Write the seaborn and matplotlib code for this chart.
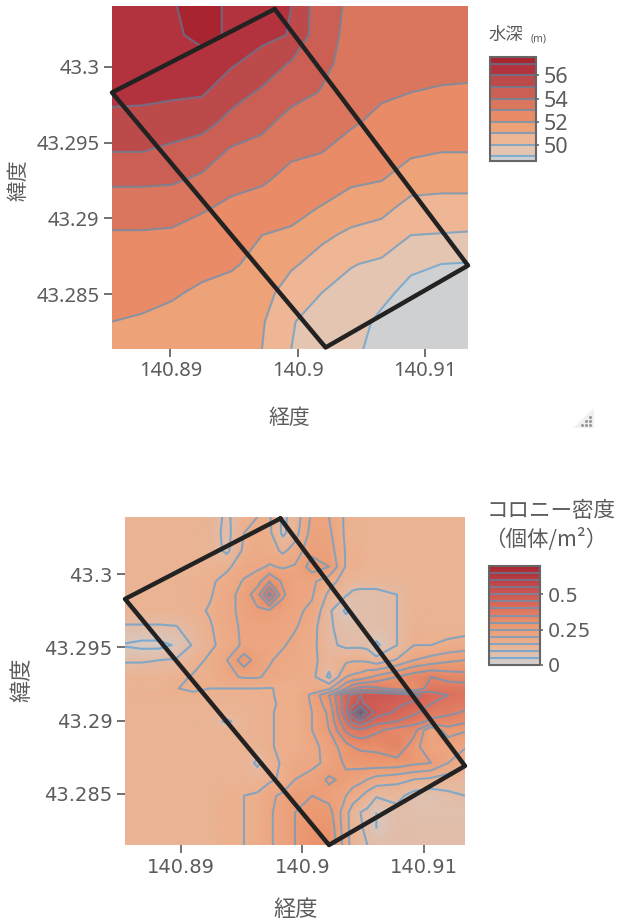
import matplotlib
matplotlib.use('Agg')
import matplotlib.pyplot as plt
import seaborn as sns
import numpy as np

# polygon of the survey area (closed)
area_lon = [140.8982, 140.9134, 140.9022, 140.8854, 140.8982]
area_lat = [43.3038, 43.2869, 43.2815, 43.2983, 43.3038]

x_ticks = [140.89, 140.9, 140.91]
x_labels = ['140.89', '140.9', '140.91']
y_ticks = [43.285, 43.29, 43.295, 43.3]
y_labels = ['43.285', '43.29', '43.295', '43.3']

# depth (m)
depth_lon = [140.8854, 140.8878, 140.8901, 140.8925, 140.8948, 140.8972, 140.8995,
             140.9019, 140.9042, 140.9066, 140.9089, 140.9113, 140.9134]
depth_lat = [43.3040, 43.3021, 43.3002, 43.2983, 43.2964, 43.2945, 43.2926,
             43.2907, 43.2889, 43.2870, 43.2851, 43.2832, 43.2814]
depth = [
    [56.8, 56.85, 56.9, 57.5, 56.75, 56.55, 56.0, 54.35, 53.85, 53.7, 53.6, 53.55, 53.5],
    [56.6, 56.7, 56.8, 57.3, 56.85, 56.25, 55.95, 54.3, 53.8, 53.6, 53.5, 53.45, 53.45],
    [56.4, 56.5, 56.55, 56.6, 56.1, 55.6, 54.9, 54.2, 53.7, 53.45, 53.35, 53.3, 53.3],
    [56.2, 56.2, 56.15, 56.1, 55.4, 54.85, 54.3, 53.95, 53.5, 53.15, 53.0, 52.9, 52.85],
    [55.8, 55.75, 55.6, 55.4, 54.7, 54.25, 53.7, 53.5, 53.15, 52.75, 52.65, 52.5, 52.45],
    [55.05, 55.05, 54.8, 54.5, 53.9, 53.7, 53.2, 53.05, 52.6, 52.4, 52.2, 52.05, 52.05],
    [54.2, 54.2, 54.15, 53.85, 53.3, 53.15, 52.7, 52.5, 52.2, 52.05, 51.5, 51.35, 51.35],
    [53.45, 53.45, 53.4, 53.1, 52.8, 52.55, 52.3, 51.95, 51.5, 51.3, 50.65, 50.65, 50.65],
    [52.9, 52.9, 52.85, 52.6, 52.45, 52.0, 51.85, 51.2, 50.8, 50.55, 50.0, 49.95, 49.9],
    [52.6, 52.55, 52.5, 52.25, 52.1, 51.75, 51.15, 50.6, 50.05, 49.85, 49.2, 49.0, 48.95],
    [52.3, 52.25, 52.1, 51.85, 51.7, 51.4, 50.5, 50.0, 49.7, 49.25, 48.7, 48.6, 48.6],
    [52.0, 51.9, 51.75, 51.5, 51.35, 51.1, 50.05, 49.7, 49.4, 48.8, 48.5, 48.5, 48.5],
    [51.7, 51.6, 51.5, 51.3, 51.15, 51.0, 50.0, 49.2, 49.2, 48.7, 48.5, 48.5, 48.5],
]
depth_levels = [48.4, 49, 50, 51, 52, 53, 54, 55, 56, 57, 57.6]
depth_colors = ['#cfd0d2', '#e4c5b2', '#eeb695', '#eea277', '#e98b67',
                '#d9765d', '#cc5f53', '#bd4a4a', '#b2333d', '#a82530']
depth_ticks = [50, 52, 54, 56]

# colony density (individuals per m2)
dens_lon = [140.8854, 140.8868, 140.8882, 140.8896, 140.8910, 140.8924, 140.8938, 140.8952,
            140.8963, 140.8973, 140.8984, 140.8994, 140.9008, 140.9022, 140.9036, 140.90415,
            140.9048, 140.90536, 140.9061, 140.9078, 140.9092, 140.9106, 140.9120, 140.9134]
dens_lat = [43.3039, 43.3028, 43.3016, 43.3005, 43.2995, 43.2986, 43.2975, 43.2964,
            43.29515, 43.29412, 43.29298, 43.29219, 43.29173, 43.29114, 43.29055, 43.28994,
            43.28935, 43.28821, 43.2871, 43.28598, 43.28487, 43.28373, 43.28262, 43.2815]
density = [
    [.13, .13, .13, .13, .13, .125, .09, .14, .15, .155, .09, .12, .21, .20, .14, .135, .135, .13, .13, .13, .13, .13, .13, .13],
    [.13, .13, .13, .13, .13, .125, .085, .15, .17, .16, .09, .13, .22, .21, .14, .135, .135, .13, .13, .13, .13, .13, .13, .13],
    [.13, .13, .13, .13, .13, .125, .09, .16, .175, .175, .14, .17, .235, .225, .145, .14, .135, .13, .13, .13, .13, .13, .13, .13],
    [.13, .13, .13, .13, .13, .13, .14, .18, .19, .205, .195, .205, .275, .25, .145, .14, .135, .13, .13, .13, .13, .13, .13, .13],
    [.13, .13, .13, .13, .135, .14, .17, .205, .23, .30, .24, .21, .21, .17, .125, .12, .12, .12, .12, .125, .13, .13, .13, .13],
    [.13, .13, .13, .13, .135, .145, .18, .22, .28, .42, .26, .21, .205, .14, .105, .09, .085, .085, .085, .10, .13, .13, .13, .13],
    [.13, .13, .13, .13, .135, .155, .185, .215, .24, .245, .22, .21, .19, .11, .04, .07, .08, .085, .085, .10, .13, .13, .13, .13],
    [.095, .095, .095, .098, .12, .145, .18, .21, .21, .21, .205, .205, .17, .105, .085, .085, .085, .085, .085, .10, .135, .13, .13, .13],
    [.045, .035, .035, .055, .105, .14, .17, .21, .2, .205, .205, .185, .165, .11, .09, .09, .09, .085, .04, .10, .15, .15, .16, .17],
    [.095, .095, .10, .105, .13, .16, .2, .28, .225, .205, .185, .18, .165, .12, .14, .145, .145, .14, .12, .155, .2, .22, .24, .25],
    [.13, .13, .13, .135, .155, .155, .19, .205, .205, .19, .175, .17, .165, .09, .2, .21, .22, .24, .26, .3, .33, .35, .33, .32],
    [.13, .13, .125, .148, .16, .15, .15, .15, .15, .148, .155, .16, .17, .19, .3, .34, .37, .37, .36, .33, .3, .38, .38, .38],
    [.135, .135, .135, .14, .14, .135, .135, .14, .14, .145, .16, .16, .21, .30, .44, .46, .5, .5, .5, .48, .47, .42, .40, .39],
    [.13, .13, .13, .13, .13, .13, .13, .13, .135, .14, .16, .16, .205, .28, .44, .48, .52, .48, .47, .46, .44, .40, .38, .365],
    [.13, .13, .13, .13, .13, .13, .13, .13, .135, .145, .16, .16, .2, .26, .44, .55, .70, .55, .48, .44, .41, .37, .36, .345],
    [.13, .13, .13, .13, .13, .125, .09, .13, .135, .145, .16, .155, .2, .255, .40, .46, .50, .46, .42, .40, .37, .34, .33, .31],
    [.13, .13, .13, .13, .13, .13, .13, .13, .135, .145, .16, .155, .2, .25, .36, .38, .39, .38, .36, .33, .32, .2, .28, .255],
    [.13, .13, .13, .13, .13, .13, .13, .13, .13, .145, .16, .16, .185, .22, .28, .30, .31, .31, .31, .34, .27, .21, .21, .205],
    [.13, .13, .13, .13, .13, .13, .13, .13, .09, .135, .155, .18, .19, .21, .26, .265, .27, .275, .28, .28, .26, .25, .2, .16],
    [.13, .13, .13, .13, .13, .13, .13, .13, .13, .14, .16, .2, .215, .26, .235, .225, .215, .20, .18, .165, .15, .14, .125, .11],
    [.13, .13, .13, .13, .13, .13, .14, .15, .155, .19, .21, .24, .25, .23, .2, .175, .155, .13, .105, .115, .08, .07, .09, .1],
    [.13, .13, .13, .13, .13, .13, .15, .15, .155, .195, .215, .25, .27, .27, .165, .125, .10, .09, .05, .085, .08, .08, .08, .08],
    [.13, .13, .13, .13, .13, .13, .145, .15, .155, .195, .215, .25, .29, .29, .165, .13, .105, .09, .05, .09, .085, .085, .085, .085],
    [.13, .13, .13, .13, .13, .13, .15, .15, .16, .195, .215, .25, .29, .3, .17, .13, .11, .10, .09, .09, .09, .09, .09, .09],
]
dens_levels = [.05, .1, .15, .2, .25, .3, .35, .4, .45, .5, .55, .6, .65]
dens_ticks = [0, .25, .5]
dens_tick_labels = ['0', '0.25', '0.5']

TEXT = '#5c5c5c'
NOTO = ['Noto Sans', 'DejaVu Sans']
W, H = 620, 922


def add_axes(left, top, right, bottom):
    return fig.add_axes([left / W, 1 - bottom / H, (right - left) / W, (bottom - top) / H])


def style_map(ax, xlim, ylim, family, size):
    sns.lineplot(x=area_lon, y=area_lat, sort=False, estimator=None, color='#222222',
                 linewidth=3.2, ax=ax, clip_on=False, zorder=5)
    ax.set_xlim(*xlim)
    ax.set_ylim(*ylim)
    ax.set_xticks(x_ticks, x_labels, family=family)
    ax.set_yticks(y_ticks, y_labels, family=family)
    ax.tick_params(bottom=True, left=True, length=5.5, width=1.3, color='#666666',
                   labelcolor=TEXT, labelsize=size, pad=3.5)
    sns.despine(ax=ax, left=True, bottom=True, offset=2)


def style_colorbar(cb, cax, family, size):
    cb.outline.set_edgecolor('#666666')
    cb.outline.set_linewidth(1.5)
    cax.tick_params(right=True, length=2.5, width=1.2, color='#666666', labelcolor=TEXT,
                    labelsize=size, pad=3)
    for t in cax.get_yticklabels():
        t.set_family(family)


sns.set_theme(style='white')
plt.rcParams['font.family'] = ['Noto Sans CJK JP', 'DejaVu Sans']
fig = plt.figure(figsize=(6.2, 9.22), dpi=100)

# top panel
ax1 = add_axes(112, 6, 468, 349)
cf = ax1.contourf(depth_lon, depth_lat, depth, levels=depth_levels, colors=depth_colors)
line_pal = sns.blend_palette(['#6fa8d2', '#7a9cb8', '#7a8ca2', '#6f7c92', '#6a6f88'], 9)
cs1 = ax1.contour(depth_lon, depth_lat, depth, levels=depth_levels[1:-1], colors=line_pal,
                  linewidths=1.5, alpha=0.85)
style_map(ax1, (140.8854, 140.9134), (43.2814, 43.3040), NOTO, 14.5)
fig.text(289 / W, 1 - 418 / H, '経度', color=TEXT, fontsize=15, ha='center', va='center')
fig.text(19 / W, 1 - 180 / H, '緯度', color=TEXT, fontsize=15, rotation=90, ha='center', va='center')

cax1 = add_axes(490, 57, 536, 161)
cb1 = fig.colorbar(cf, cax=cax1, spacing='proportional', ticks=depth_ticks)
cb1.add_lines(cs1)
cax1.set_ylim(48.6, 57.6)
style_colorbar(cb1, cax1, NOTO, 15.5)
fig.text(489 / W, 1 - 35 / H, '水深', color=TEXT, fontsize=12.5, va='center')
fig.text(531 / W, 1 - 39 / H, '(m)', color=TEXT, fontsize=7.5, va='center', ha='left',
         fontweight='bold', family=NOTO)

# resize handle left over in the screenshot
fig.add_artist(plt.Polygon([(573 / W, 1 - 428 / H), (594 / W, 1 - 428 / H), (594 / W, 1 - 408 / H)],
                           transform=fig.transFigure, color='#f0f0f0', lw=0))
for dx, dy in [(590, 425), (586, 425), (582, 425), (590, 421), (586, 421), (590, 417)]:
    fig.add_artist(plt.Line2D([dx / W], [1 - dy / H], marker='o', ms=1.2, color='#999999',
                              transform=fig.transFigure))

# bottom panel
ax2 = add_axes(125, 517, 465, 845)
cmap = sns.blend_palette(['#d0d2d4', '#ecb18f', '#eb9870', '#d96b5a', '#c24a4c', '#a82530'],
                         as_cmap=True)
mesh = ax2.pcolormesh(dens_lon, dens_lat, density, cmap=cmap, vmin=0, vmax=.7, shading='gouraud')
dens_pal = sns.blend_palette(['#6aa6d4', '#7ba0c0', '#7a94ae', '#75869e', '#6e7088'], len(dens_levels))
cs2 = ax2.contour(dens_lon, dens_lat, density, levels=dens_levels, colors=dens_pal,
                  linewidths=1.5, alpha=0.85)
style_map(ax2, (140.8854, 140.9134), (43.2815, 43.3039), 'DejaVu Sans', 14)
fig.text(296 / W, 1 - 909 / H, '経度', color=TEXT, fontsize=16, ha='center', va='center')
fig.text(22 / W, 1 - 680 / H, '緯度', color=TEXT, fontsize=16, rotation=90, ha='center', va='center')

cax2 = add_axes(489, 566, 540, 665)
cb2 = fig.colorbar(mesh, cax=cax2, ticks=dens_ticks)
cb2.add_lines(cs2)
cb2.set_ticklabels(dens_tick_labels)
style_colorbar(cb2, cax2, 'DejaVu Sans', 14)
fig.text(551 / W, 1 - 511 / H, 'コロニー密度', color=TEXT, fontsize=15.5, ha='center', va='center')
fig.text(546 / W, 1 - 539 / H, '（個体/m²）', color=TEXT, fontsize=15.5, ha='center', va='center')

fig.savefig('out.png', dpi=100)
